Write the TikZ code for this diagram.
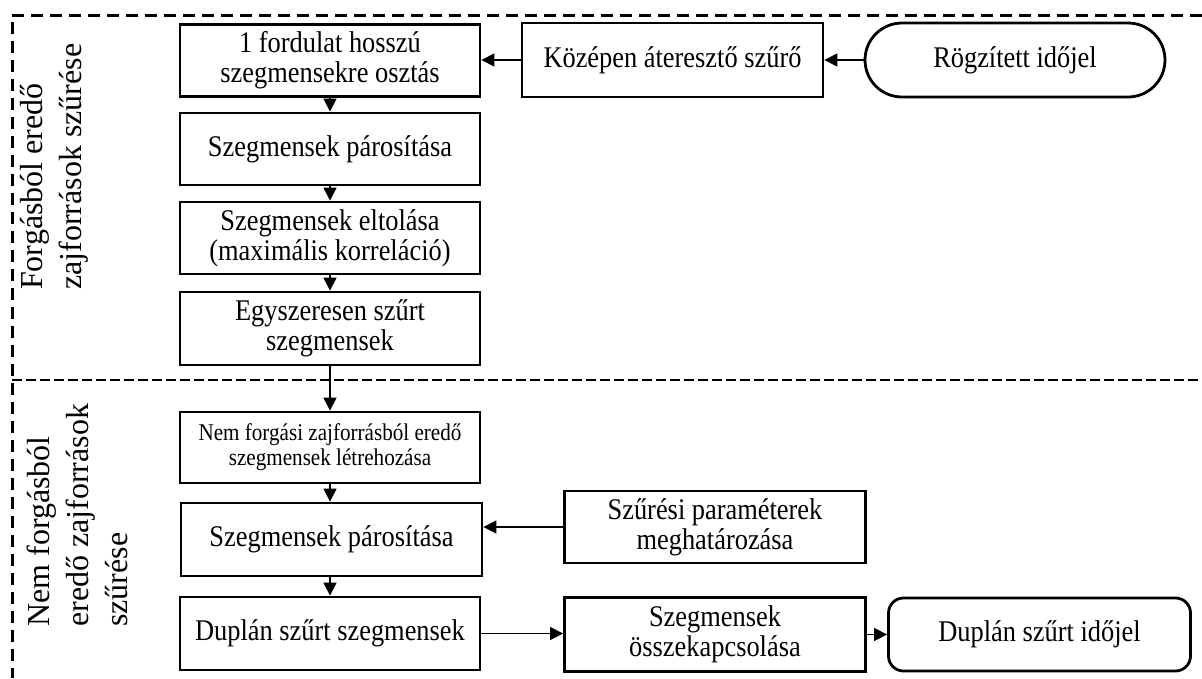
\documentclass[tikz,border=0pt]{standalone}
\usepackage{fontspec}
\setmainfont[FakeStretch=0.88]{Liberation Serif}
\newfontfamily\labfamily{Liberation Serif}
\usetikzlibrary{arrows.meta}
\newcommand{\boxfont}{\fontsize{30}{30}\selectfont}
\newcommand{\smallboxfont}{\fontsize{24}{25}\selectfont}
\newcommand{\labfont}{\labfamily\fontsize{32}{39}\selectfont}
\tikzset{
  procbox/.style={draw, line width=2.8pt, minimum width=300pt, minimum height=72pt, inner sep=0pt, align=center, font=\boxfont},
  conn/.style={line width=1.4pt, -{Triangle[length=13pt,width=13pt]}},
  frame/.style={line width=3pt, dash pattern=on 12pt off 7pt},
  sidelabel/.style={rotate=90, anchor=north west, align=left, inner sep=0pt, font=\labfont}
}
\begin{document}
\begin{tikzpicture}[x=1pt,y=-1pt]
\useasboundingbox (0,0) rectangle (1202,678);
% frame lines
\coordinate (tl) at (12,15);
\coordinate (tr) at (1202,15);
\coordinate (bl) at (12,678);
\coordinate (ml) at (12,380);
\coordinate (mr) at (1202,380);
\draw[frame] (tr) -- (tl) -- (bl);
\draw[frame, line width=2.4pt, dash pattern=on 10pt off 4pt] (ml) -- (mr);
% side labels
\node[sidelabel] (lab1) at (20,290) {Forgásból eredő\\zajforrások szűrése};
\node[sidelabel] (lab2) at (27,627) {Nem forgásból\\eredő zajforrások\\szűrése};
% upper nodes
\node[procbox] (b1) at (330,60.5) {1 fordulat hosszú\\szegmensekre osztás};
\node[procbox, minimum width=301pt, minimum height=74pt] (kp) at (672.5,60) {Középen áteresztő szűrő};
\node[procbox, minimum width=300pt, minimum height=74pt, rounded corners=37pt] (rg) at (1015,60) {Rögzített időjel};
\node[procbox] (b2) at (330,149) {Szegmensek párosítása};
\node[procbox] (b3) at (330,238) {Szegmensek eltolása\\(maximális korreláció)};
\node[procbox, minimum height=73pt] (b4) at (330,328.5) {Egyszeresen szűrt\\szegmensek};
% lower nodes
\node[procbox, minimum height=71pt, font=\smallboxfont] (b5) at (330,447.5) {Nem forgási zajforrásból eredő\\szegmensek létrehozása};
\node[procbox, minimum width=301pt, minimum height=73pt] (b6) at (331.5,539.5) {Szegmensek párosítása};
\node[procbox, minimum width=301pt, minimum height=72pt] (sz) at (715,527) {Szűrési paraméterek\\meghatározása};
\node[procbox, minimum height=73pt] (b7) at (330,633.5) {Duplán szűrt szegmensek};
\node[procbox, minimum width=301pt, minimum height=74pt] (ok) at (715,634.5) {Szegmensek\\összekapcsolása};
\node[procbox, minimum width=302pt, minimum height=73pt, rounded corners=15pt] (dt) at (1039.5,634.5) {Duplán szűrt időjel};
% connectors
\draw[conn] (rg.west) -- (kp.east);
\draw[conn] (kp.west) -- (kp.west -| b1.east);
\draw[conn] (b1.south) -- (b2.north);
\draw[conn] (b2.south) -- (b3.north);
\draw[conn] (b3.south) -- (b4.north);
\draw[conn] (b4.south) -- (b5.north);
\draw[conn] (b5.south) -- (b5.south |- b6.north);
\draw[conn] (sz.west) -- (sz.west -| b6.east);
\draw[conn] (b6.south -| b5.south) -- (b5.south |- b7.north);
\draw[conn] (b7.east) -- (b7.east -| ok.west);
\draw[conn] (ok.east) -- (ok.east -| dt.west);
\end{tikzpicture}
\end{document}
